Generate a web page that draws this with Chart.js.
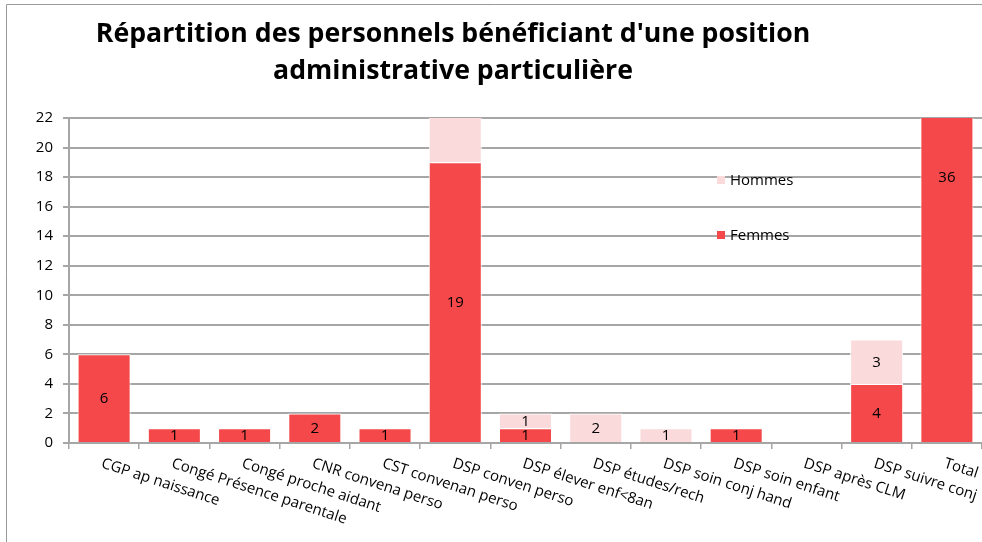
<!DOCTYPE html>
<html>
<head>
<meta charset="utf-8">
<script src="https://cdn.jsdelivr.net/npm/chart.js@4/dist/chart.umd.min.js"></script>
<style>
  html, body { margin: 0; padding: 0; background: #fff; overflow: hidden; }
  canvas { display: block; }
</style>
</head>
<body>
<canvas id="graphique" width="982" height="542"></canvas>
<script>
// Données
const categories = [
  "CGP ap naissance", "Congé Présence parentale", "Congé proche aidant",
  "CNR convena perso", "CST convenan perso", "DSP conven perso",
  "DSP élever enf<8an", "DSP études/rech", "DSP soin conj hand",
  "DSP soin enfant", "DSP après CLM", "DSP suivre conj", "Total"
];
const femmes = [6, 1, 1, 2, 1, 19, 1, 0, 0, 1, 0, 4, 36];
const hommes = [0, 0, 0, 0, 0, 7, 1, 2, 1, 0, 0, 3, 14];
const titre = ["Répartition des personnels bénéficiant d'une position", "administrative particulière"];

const ROUGE = "#F4484A";
const ROSE = "#FADADB";
const POLICE = "'Open Sans', sans-serif";

const decor = {
  id: "decor",
  beforeDraw(chart) {
    const ctx = chart.ctx;
    ctx.save();
    ctx.fillStyle = "#fff";
    ctx.fillRect(0, 0, chart.width, chart.height);
    ctx.strokeStyle = "#9a9a9a";
    ctx.lineWidth = 1;
    ctx.beginPath();
    ctx.moveTo(6.5, chart.height);
    ctx.lineTo(6.5, 4.5);
    ctx.lineTo(chart.width, 4.5);
    ctx.stroke();
    ctx.restore();
  },
  afterDatasetsDraw(chart) {
    // étiquettes de valeurs au centre de chaque segment
    const ctx = chart.ctx;
    const area = chart.chartArea;
    ctx.save();
    ctx.font = "15px " + POLICE;
    ctx.fillStyle = "#000";
    ctx.textAlign = "center";
    ctx.textBaseline = "middle";
    chart.data.datasets.forEach((ds, d) => {
      chart.getDatasetMeta(d).data.forEach((bar, i) => {
        const v = ds.data[i];
        if (!v) return;
        const y = (bar.y + bar.base) / 2;
        if (y < area.top) return;
        ctx.fillText(String(v), bar.x, y + 1);
      });
    });
    ctx.restore();
  },
  afterDraw(chart) {
    const ctx = chart.ctx;
    ctx.save();
    // titre
    ctx.fillStyle = "#000";
    ctx.font = "bold 26.7px " + POLICE;
    ctx.textAlign = "center";
    ctx.textBaseline = "alphabetic";
    ctx.fillText(titre[0], 453, 42);
    ctx.fillText(titre[1], 453, 79);

    // libellés de l'axe X, inclinés
    const xs = chart.scales.x;
    ctx.font = "15px " + POLICE;
    ctx.textAlign = "left";
    ctx.textBaseline = "top";
    categories.forEach((lab, i) => {
      const x = xs.getPixelForValue(i);
      ctx.save();
      ctx.translate(x, 456);
      ctx.rotate(18 * Math.PI / 180);
      ctx.fillText(lab, 0, 0);
      ctx.restore();
    });

    // légende dans la zone de tracé
    const items = chart.data.datasets.slice().reverse();
    ctx.font = "15px " + POLICE;
    ctx.textBaseline = "middle";
    items.forEach((ds, k) => {
      const y = 180 + k * 55;
      ctx.fillStyle = ds.backgroundColor;
      ctx.fillRect(717, y - 4, 8, 8);
      ctx.fillStyle = "#000";
      ctx.fillText(ds.label, 730, y + 1);
    });
    ctx.restore();
  }
};

new Chart(document.getElementById("graphique"), {
  type: "bar",
  data: {
    labels: categories,
    datasets: [
      { label: "Femmes", data: femmes, backgroundColor: ROUGE, borderColor: "#fff", borderWidth: 1 },
      { label: "Hommes", data: hommes, backgroundColor: ROSE, borderColor: "#fff", borderWidth: 1 }
    ]
  },
  options: {
    responsive: false,
    animation: false,
    devicePixelRatio: 1,
    layout: { padding: { top: 118, left: 0, right: 0, bottom: 0 } },
    datasets: { bar: { categoryPercentage: 1, barPercentage: 0.755 } },
    plugins: { legend: { display: false }, title: { display: false }, tooltip: { enabled: false } },
    scales: {
      x: {
        stacked: true,
        grid: { drawOnChartArea: false, drawTicks: true, tickLength: 6, color: "#a6a6a6", lineWidth: 1.5 },
        border: { color: "#a6a6a6", width: 2 },
        ticks: { display: false },
        afterFit: s => { s.height = 99; }
      },
      y: {
        stacked: true,
        min: 0,
        max: 22,
        ticks: { stepSize: 2, padding: 10, color: "#000", font: { family: "Open Sans", size: 15 } },
        grid: { color: "#a6a6a6", lineWidth: 2, tickLength: 6 },
        border: { color: "#a6a6a6", width: 2 },
        afterFit: s => { s.width = 69; }
      }
    }
  },
  plugins: [decor]
});
</script>
</body>
</html>
